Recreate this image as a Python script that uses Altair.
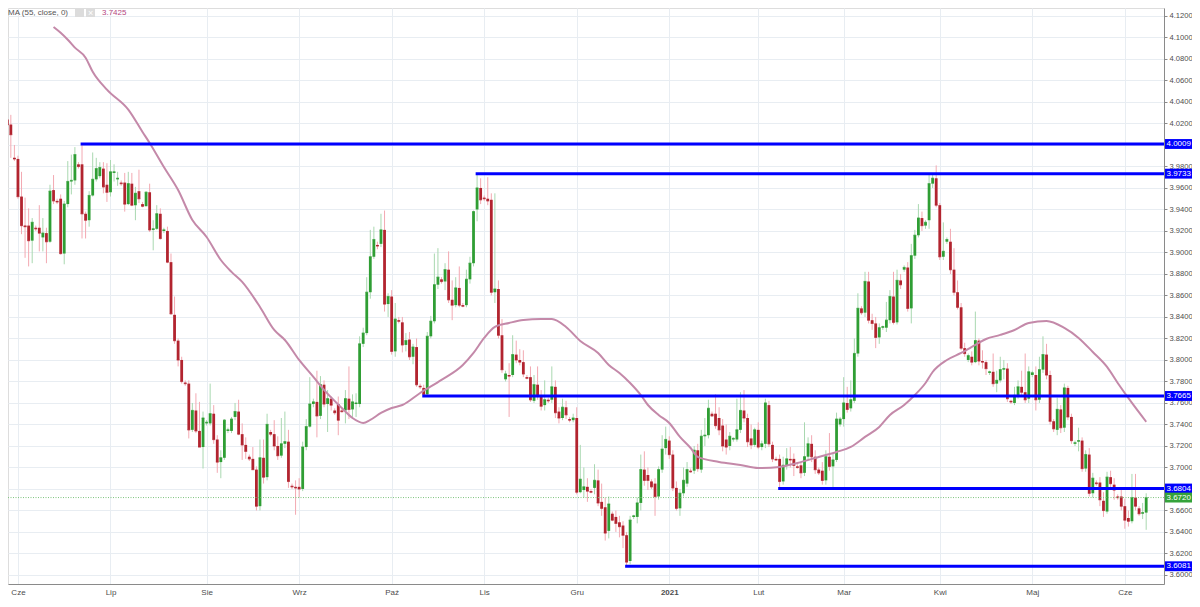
import altair as alt
import pandas as pd

# ---------------- data ----------------
open_ = [
    4.0406, 4.0236, 4.019, 3.988, 3.987, 3.952, 3.925, 3.925, 3.911, 3.923,
    3.923, 3.914, 3.918, 3.910, 3.958, 3.948, 3.950, 3.899, 3.945, 3.966,
    3.967, 3.982, 3.982, 3.936, 3.930, 3.953, 3.968, 3.971, 3.978, 3.963,
    3.956, 3.974, 3.968, 3.965, 3.965, 3.945, 3.964, 3.944, 3.957, 3.945,
    3.943, 3.956, 3.921, 3.922, 3.936, 3.920, 3.920, 3.891, 3.842, 3.818,
    3.800, 3.779, 3.778, 3.735, 3.753, 3.734, 3.719, 3.741, 3.741, 3.750,
    3.726, 3.705, 3.709, 3.734, 3.734, 3.747, 3.752, 3.731, 3.721, 3.710,
    3.708, 3.698, 3.664, 3.709, 3.691, 3.733, 3.731, 3.720, 3.711, 3.722,
    3.724, 3.683, 3.682, 3.682, 3.680, 3.719, 3.738, 3.759, 3.761, 3.748,
    3.777, 3.759, 3.764, 3.753, 3.759, 3.753, 3.753, 3.764, 3.754, 3.759,
    3.759, 3.815, 3.825, 3.863, 3.896, 3.907, 3.908, 3.921, 3.852, 3.859,
    3.808, 3.837, 3.835, 3.814, 3.819, 3.803, 3.812, 3.776, 3.774, 3.768,
    3.822, 3.836, 3.870, 3.875, 3.873, 3.884, 3.856, 3.851, 3.867, 3.851,
    3.851, 3.875, 3.890, 3.940, 3.960, 3.951, 3.950, 3.949, 3.863, 3.866,
    3.823, 3.782, 3.786, 3.786, 3.805, 3.800, 3.798, 3.784, 3.784, 3.762,
    3.777, 3.766, 3.758, 3.763, 3.763, 3.775, 3.752, 3.746, 3.756, 3.745,
    3.744, 3.746, 3.677, 3.679, 3.682, 3.678, 3.681, 3.688, 3.668, 3.663,
    3.641, 3.657, 3.654, 3.649, 3.646, 3.637, 3.613, 3.654, 3.654, 3.667,
    3.698, 3.693, 3.687, 3.685, 3.673, 3.698, 3.718, 3.725, 3.712, 3.681,
    3.662, 3.676, 3.685, 3.697, 3.697, 3.716, 3.698, 3.729, 3.730, 3.750,
    3.750, 3.746, 3.739, 3.726, 3.720, 3.726, 3.726, 3.735, 3.753, 3.746,
    3.727, 3.721, 3.735, 3.719, 3.722, 3.758, 3.721, 3.708, 3.708, 3.687,
    3.702, 3.708, 3.708, 3.701, 3.702, 3.695, 3.710, 3.722, 3.710, 3.698,
    3.697, 3.688, 3.710, 3.701, 3.707, 3.740, 3.745, 3.760, 3.755, 3.762,
    3.806, 3.848, 3.844, 3.873, 3.837, 3.834, 3.821, 3.830, 3.830, 3.837,
    3.859, 3.835, 3.874, 3.884, 3.886, 3.848, 3.897, 3.916, 3.932, 3.925,
    3.930, 3.964, 3.969, 3.944, 3.896, 3.910, 3.910, 3.884, 3.863, 3.849,
    3.811, 3.800, 3.803, 3.798, 3.818, 3.799, 3.798, 3.788, 3.789, 3.778,
    3.781, 3.791, 3.792, 3.762, 3.760, 3.767, 3.775, 3.770, 3.764, 3.786,
    3.786, 3.763, 3.791, 3.805, 3.786, 3.743, 3.735, 3.754, 3.737, 3.774,
    3.747, 3.722, 3.724, 3.725, 3.699, 3.712, 3.676, 3.686, 3.686, 3.669,
    3.659, 3.691, 3.684, 3.673, 3.673, 3.664, 3.653, 3.650, 3.672, 3.662, 3.657, 3.658,
]
high = [
    4.045, 4.031, 4.028, 4.000, 3.990, 3.975, 3.951, 3.941, 3.932, 3.925,
    3.944, 3.932, 3.923, 3.963, 3.972, 3.950, 3.954, 3.948, 3.985, 3.991,
    3.998, 3.984, 4.0009, 3.938, 3.957, 3.993, 3.988, 3.984, 3.984, 3.983,
    3.986, 3.982, 3.975, 3.967, 3.974, 3.975, 3.974, 3.961, 3.977, 3.947,
    3.957, 3.964, 3.930, 3.944, 3.941, 3.923, 3.924, 3.899, 3.859, 3.820,
    3.803, 3.781, 3.781, 3.760, 3.769, 3.761, 3.752, 3.744, 3.778, 3.758,
    3.730, 3.716, 3.745, 3.737, 3.747, 3.760, 3.763, 3.741, 3.728, 3.712,
    3.719, 3.701, 3.726, 3.726, 3.750, 3.735, 3.744, 3.729, 3.746, 3.752,
    3.735, 3.685, 3.688, 3.690, 3.724, 3.745, 3.784, 3.764, 3.790, 3.785,
    3.781, 3.772, 3.766, 3.755, 3.766, 3.755, 3.772, 3.794, 3.768, 3.769,
    3.822, 3.830, 3.877, 3.921, 3.924, 3.910, 3.936, 3.939, 3.862, 3.865,
    3.853, 3.840, 3.840, 3.825, 3.826, 3.815, 3.820, 3.778, 3.777, 3.826,
    3.841, 3.899, 3.904, 3.877, 3.890, 3.901, 3.874, 3.877, 3.887, 3.853,
    3.884, 3.896, 3.939, 3.9733, 3.969, 3.953, 3.970, 3.955, 3.955, 3.874,
    3.838, 3.790, 3.797, 3.823, 3.818, 3.810, 3.809, 3.786, 3.794, 3.786,
    3.794, 3.772, 3.781, 3.765, 3.794, 3.781, 3.756, 3.764, 3.762, 3.747,
    3.750, 3.756, 3.721, 3.700, 3.690, 3.680, 3.703, 3.698, 3.685, 3.672,
    3.673, 3.659, 3.660, 3.655, 3.650, 3.640, 3.655, 3.656, 3.672, 3.712,
    3.715, 3.700, 3.689, 3.690, 3.701, 3.730, 3.738, 3.729, 3.716, 3.687,
    3.680, 3.700, 3.705, 3.699, 3.720, 3.722, 3.735, 3.746, 3.763, 3.752,
    3.768, 3.756, 3.745, 3.740, 3.733, 3.728, 3.764, 3.770, 3.772, 3.750,
    3.740, 3.737, 3.742, 3.725, 3.764, 3.762, 3.724, 3.710, 3.712, 3.710,
    3.718, 3.719, 3.713, 3.703, 3.705, 3.742, 3.728, 3.730, 3.716, 3.700,
    3.705, 3.716, 3.732, 3.713, 3.751, 3.747, 3.784, 3.775, 3.781, 3.820,
    3.862, 3.850, 3.882, 3.882, 3.843, 3.840, 3.834, 3.832, 3.854, 3.865,
    3.882, 3.884, 3.880, 3.888, 3.891, 3.908, 3.921, 3.945, 3.938, 3.930,
    3.972, 3.9733, 3.981, 3.946, 3.928, 3.914, 3.922, 3.904, 3.874, 3.853,
    3.816, 3.806, 3.808, 3.845, 3.820, 3.809, 3.800, 3.790, 3.806, 3.790,
    3.803, 3.800, 3.797, 3.763, 3.775, 3.781, 3.790, 3.806, 3.794, 3.790,
    3.794, 3.803, 3.822, 3.815, 3.790, 3.745, 3.765, 3.758, 3.778, 3.776,
    3.750, 3.725, 3.737, 3.728, 3.716, 3.718, 3.695, 3.688, 3.691, 3.677,
    3.696, 3.697, 3.690, 3.675, 3.680, 3.671, 3.660, 3.694, 3.694, 3.664, 3.667, 3.676,
]
low = [
    4.010, 4.005, 3.988, 3.985, 3.950, 3.917, 3.895, 3.887, 3.890, 3.920,
    3.901, 3.901, 3.890, 3.909, 3.945, 3.945, 3.898, 3.889, 3.942, 3.954,
    3.963, 3.978, 3.913, 3.913, 3.924, 3.952, 3.966, 3.969, 3.955, 3.947,
    3.952, 3.966, 3.962, 3.962, 3.938, 3.944, 3.943, 3.930, 3.946, 3.942,
    3.943, 3.919, 3.902, 3.921, 3.912, 3.918, 3.890, 3.842, 3.815, 3.794,
    3.778, 3.776, 3.727, 3.733, 3.732, 3.719, 3.699, 3.739, 3.739, 3.722,
    3.695, 3.690, 3.707, 3.732, 3.732, 3.744, 3.730, 3.707, 3.708, 3.706,
    3.698, 3.660, 3.660, 3.685, 3.688, 3.729, 3.716, 3.707, 3.709, 3.718,
    3.681, 3.680, 3.656, 3.672, 3.678, 3.716, 3.737, 3.756, 3.728, 3.745,
    3.756, 3.733, 3.753, 3.749, 3.730, 3.751, 3.741, 3.745, 3.747, 3.747,
    3.756, 3.812, 3.823, 3.857, 3.894, 3.903, 3.905, 3.845, 3.840, 3.805,
    3.803, 3.834, 3.807, 3.808, 3.800, 3.796, 3.775, 3.773, 3.7665, 3.767,
    3.820, 3.834, 3.866, 3.871, 3.865, 3.853, 3.837, 3.849, 3.849, 3.849,
    3.849, 3.871, 3.887, 3.929, 3.945, 3.948, 3.944, 3.860, 3.853, 3.820,
    3.788, 3.780, 3.747, 3.784, 3.797, 3.795, 3.784, 3.782, 3.761, 3.760,
    3.763, 3.753, 3.753, 3.760, 3.760, 3.746, 3.741, 3.744, 3.745, 3.742,
    3.742, 3.675, 3.676, 3.672, 3.668, 3.676, 3.675, 3.664, 3.655, 3.632,
    3.634, 3.650, 3.640, 3.635, 3.625, 3.6081, 3.610, 3.652, 3.648, 3.660,
    3.683, 3.679, 3.680, 3.655, 3.670, 3.695, 3.712, 3.708, 3.678, 3.660,
    3.655, 3.673, 3.682, 3.695, 3.694, 3.696, 3.695, 3.720, 3.727, 3.747,
    3.736, 3.730, 3.715, 3.712, 3.716, 3.724, 3.724, 3.732, 3.742, 3.719,
    3.717, 3.719, 3.717, 3.716, 3.718, 3.719, 3.705, 3.706, 3.6804, 3.684,
    3.698, 3.700, 3.692, 3.699, 3.690, 3.692, 3.707, 3.705, 3.694, 3.693,
    3.684, 3.684, 3.697, 3.681, 3.705, 3.738, 3.738, 3.751, 3.752, 3.760,
    3.803, 3.842, 3.840, 3.834, 3.828, 3.811, 3.815, 3.828, 3.826, 3.834,
    3.833, 3.833, 3.866, 3.882, 3.845, 3.834, 3.894, 3.914, 3.920, 3.922,
    3.922, 3.960, 3.942, 3.893, 3.893, 3.908, 3.880, 3.860, 3.847, 3.809,
    3.803, 3.798, 3.795, 3.797, 3.795, 3.792, 3.786, 3.786, 3.775, 3.770,
    3.779, 3.782, 3.761, 3.759, 3.758, 3.764, 3.766, 3.760, 3.760, 3.784,
    3.753, 3.760, 3.788, 3.782, 3.740, 3.733, 3.730, 3.732, 3.733, 3.744,
    3.722, 3.720, 3.715, 3.696, 3.696, 3.673, 3.672, 3.683, 3.664, 3.654,
    3.657, 3.679, 3.670, 3.670, 3.660, 3.643, 3.645, 3.648, 3.660, 3.655, 3.652, 3.642,
]
close = [
    4.0205, 4.0189, 4.0096, 3.987, 3.952, 3.925, 3.924, 3.911, 3.928, 3.922,
    3.918, 3.918, 3.910, 3.957, 3.948, 3.947, 3.899, 3.945, 3.966, 3.967,
    3.991, 3.980, 3.936, 3.930, 3.953, 3.968, 3.978, 3.979, 3.961, 3.956,
    3.975, 3.975, 3.969, 3.964, 3.945, 3.964, 3.944, 3.955, 3.950, 3.943,
    3.956, 3.921, 3.922, 3.936, 3.913, 3.921, 3.891, 3.843, 3.818, 3.800,
    3.780, 3.778, 3.735, 3.753, 3.734, 3.719, 3.746, 3.742, 3.750, 3.726,
    3.705, 3.709, 3.744, 3.735, 3.745, 3.752, 3.731, 3.721, 3.715, 3.708,
    3.698, 3.664, 3.709, 3.691, 3.740, 3.731, 3.720, 3.711, 3.722, 3.724,
    3.687, 3.682, 3.681, 3.680, 3.719, 3.738, 3.759, 3.761, 3.748, 3.777,
    3.759, 3.764, 3.758, 3.751, 3.744, 3.752, 3.764, 3.754, 3.761, 3.760,
    3.815, 3.825, 3.863, 3.896, 3.912, 3.906, 3.921, 3.852, 3.859, 3.808,
    3.838, 3.836, 3.814, 3.818, 3.803, 3.812, 3.777, 3.775, 3.768, 3.822,
    3.836, 3.870, 3.877, 3.873, 3.884, 3.856, 3.851, 3.867, 3.851, 3.850,
    3.875, 3.890, 3.938, 3.960, 3.949, 3.950, 3.948, 3.863, 3.866, 3.823,
    3.791, 3.787, 3.785, 3.805, 3.800, 3.798, 3.787, 3.783, 3.763, 3.777,
    3.766, 3.757, 3.763, 3.762, 3.775, 3.751, 3.746, 3.756, 3.749, 3.744,
    3.746, 3.677, 3.689, 3.682, 3.678, 3.677, 3.688, 3.667, 3.662, 3.639,
    3.666, 3.651, 3.648, 3.645, 3.637, 3.612, 3.651, 3.655, 3.667, 3.698,
    3.688, 3.688, 3.682, 3.673, 3.698, 3.717, 3.726, 3.712, 3.681, 3.662,
    3.676, 3.688, 3.698, 3.696, 3.716, 3.699, 3.729, 3.730, 3.755, 3.748,
    3.739, 3.735, 3.720, 3.719, 3.729, 3.727, 3.735, 3.753, 3.746, 3.724,
    3.721, 3.735, 3.719, 3.722, 3.760, 3.722, 3.708, 3.707, 3.687, 3.702,
    3.708, 3.707, 3.702, 3.700, 3.695, 3.710, 3.722, 3.710, 3.698, 3.695,
    3.688, 3.710, 3.701, 3.707, 3.745, 3.745, 3.760, 3.754, 3.763, 3.806,
    3.848, 3.844, 3.873, 3.837, 3.834, 3.821, 3.830, 3.831, 3.837, 3.859,
    3.835, 3.874, 3.870, 3.886, 3.848, 3.897, 3.916, 3.932, 3.925, 3.928,
    3.964, 3.969, 3.944, 3.896, 3.901, 3.912, 3.884, 3.863, 3.849, 3.811,
    3.806, 3.804, 3.798, 3.818, 3.799, 3.798, 3.792, 3.789, 3.778, 3.781,
    3.791, 3.792, 3.764, 3.761, 3.767, 3.775, 3.770, 3.763, 3.789, 3.788,
    3.763, 3.791, 3.805, 3.786, 3.743, 3.736, 3.754, 3.737, 3.774, 3.747,
    3.725, 3.723, 3.725, 3.699, 3.712, 3.676, 3.690, 3.685, 3.670, 3.660,
    3.691, 3.685, 3.679, 3.672, 3.664, 3.651, 3.650, 3.672, 3.664, 3.657, 3.658, 3.672,
]

# MA(55) line: session number -> value
ma_i = [14, 16, 18, 20, 23, 25, 29, 35, 39, 41, 45, 49, 53, 57, 61, 64, 67, 72, 76, 79,
        83, 87, 90, 95, 98, 101, 103, 106, 109, 112, 117, 123, 129, 132, 135, 138, 142, 146,
        151, 154, 158, 162, 167, 170, 173, 176, 179, 181, 184, 187, 190, 193, 195, 201, 207,
        212, 218, 223, 229, 234, 238, 242, 246, 249, 253, 256, 259, 261, 265, 269, 273, 276,
        280, 284, 288, 293, 298, 302, 306, 310, 313, 317, 321]
ma_v = [4.1098, 4.1044, 4.0979, 4.0905, 4.0812, 4.0681, 4.0514, 4.0328, 4.0121, 4.0019,
        3.9795, 3.9581, 3.9302, 3.9144, 3.8930, 3.8819, 3.8726, 3.8493, 3.8279, 3.8186,
        3.8000, 3.7842, 3.7721, 3.7553, 3.7460, 3.7414, 3.7442, 3.7507, 3.7553, 3.7581,
        3.7693, 3.7814, 3.7953, 3.8065, 3.8205, 3.8307, 3.8344, 3.8372, 3.8381, 3.8381,
        3.8307, 3.8177, 3.8065, 3.7953, 3.7879, 3.7786, 3.7674, 3.7581, 3.7488, 3.7414,
        3.7284, 3.7181, 3.7098, 3.7051, 3.7023, 3.6995, 3.7005, 3.7042, 3.7098, 3.7144,
        3.7191, 3.7284, 3.7377, 3.7488, 3.7581, 3.7674, 3.7786, 3.7888, 3.8000, 3.8065,
        3.8140, 3.8195, 3.8233, 3.8279, 3.8344, 3.8363, 3.8298, 3.8205, 3.8074, 3.7935,
        3.7786, 3.7600, 3.7425]

# horizontal support / resistance levels and the session where each starts
levels = [4.0009, 3.9733, 3.7665, 3.6804, 3.6081]
level_start = [22, 133, 118, 218, 175]

month_abbr = ["Sty", "Lut", "Mar", "Kwi", "Maj", "Cze", "Lip", "Sie", "Wrz", "Paź", "Lis", "Gru"]

# ---------------- build tables ----------------
holidays = {"2020-12-25", "2021-01-01"}
days = pd.date_range("2020-05-27", "2021-06-08", freq="D")
dates = [d for d in days if d.weekday() != 5 and d.strftime("%Y-%m-%d") not in holidays]
n = min(len(dates), len(open_))
df = pd.DataFrame({
    "i": list(range(n)),
    "date": [d.strftime("%Y-%m-%d") for d in dates[:n]],
    "o": open_[:n], "h": high[:n], "l": low[:n], "c": close[:n],
})

month_idx, month_lab = [], []
for k in range(1, n):
    if dates[k].month != dates[k - 1].month:
        month_idx.append(k)
        month_lab.append(str(dates[k].year) if dates[k].month == 1 else month_abbr[dates[k].month - 1])
year_idx = [k for k, t in zip(month_idx, month_lab) if t.isdigit()]
label_expr = "[" + ",".join("'%s'" % t for t in month_lab) + "][indexof([" + \
    ",".join(str(v) for v in month_idx) + "], datum.value)]"

ma_df = pd.DataFrame({"i": ma_i, "v": ma_v})
lev_df = pd.DataFrame({"level": levels, "start": level_start})
box_df = pd.DataFrame({"level": levels + [close[n - 1]],
                       "kind": ["lvl"] * len(levels) + ["last"]})
last_df = pd.DataFrame({"level": [close[n - 1]]})
one = pd.DataFrame({"a": [0]})

# ---------------- style ----------------
W, H = 1156, 576
PAD_R, PAD_B = 28, 15
RED, GREEN = "#b2242f", "#2f9e34"
RED_W, GREEN_W = "#f3a9b2", "#a9d8b0"
BLUE = "#0000ff"
MA_C = "#c489a9"
GRID = "#e8edf2"
FONT = "Liberation Sans"
FS = 8

xs = alt.Scale(domain=[2.607, 324.6], nice=False, zero=False)
ys = alt.Scale(domain=[3.5916, 4.1274], nice=False, zero=False)
yticks = [round(3.60 + 0.02 * j, 2) for j in range(27)]
# labels that sit fully under a level box are not visible in the reference
hidden = [v for v in yticks if any(abs(v - L) < 0.0015 for L in levels)]
y_label_expr = "indexof(%s, round(datum.value * 100) / 100) >= 0 ? '' : format(datum.value, '.4f')" % str(hidden)

x_axis = alt.Axis(values=month_idx, labelExpr=label_expr, grid=True, gridColor=GRID,
                  gridWidth=1, title=None, ticks=False, labelFontSize=FS,
                  labelColor="#4d4d4d", domainColor="#8a8a8a", labelOverlap=False,
                  labelFlush=8, labelFlushOffset=5, labelPadding=4, labelFont=FONT,
                  labelFontWeight={"condition": {"test": "indexof(%s, datum.value) >= 0" % str(year_idx),
                                                 "value": "bold"}, "value": "normal"})
y_axis = alt.Axis(orient="right", values=yticks, labelExpr=y_label_expr, grid=True,
                  gridColor=GRID, gridWidth=1, title=None, tickSize=3, tickColor="#8a8a8a",
                  labelFontSize=7.6, labelColor="#4d4d4d", domainColor="#8a8a8a",
                  labelOverlap=False, labelPadding=2, labelFont=FONT, labelFlush=False)


def X(f):
    return alt.X(f, scale=xs, axis=x_axis)


def Y(f):
    return alt.Y(f, scale=ys, axis=y_axis)


up = "datum.c >= datum.o"

wick = alt.Chart(df).mark_rule(strokeWidth=1, clip=True).encode(
    x=X("i:Q"), y=Y("l:Q"), y2="h:Q",
    color=alt.condition(up, alt.value(GREEN_W), alt.value(RED_W)))

body = alt.Chart(df).mark_bar(width=2.8, clip=True).encode(
    x=X("i:Q"), y=Y("o:Q"), y2="c:Q",
    color=alt.condition(up, alt.value(GREEN), alt.value(RED)))

cap = alt.Chart(df).mark_tick(orient="horizontal", size=2.8, thickness=1.2, clip=True).encode(
    x=X("i:Q"), y=Y("c:Q"),
    color=alt.condition(up, alt.value(GREEN), alt.value(RED)))

ma = alt.Chart(ma_df).mark_line(color=MA_C, strokeWidth=2, interpolate="monotone", clip=True).encode(
    x=X("i:Q"), y=Y("v:Q"))

lev = alt.Chart(lev_df).transform_calculate(x0="datum.start - 0.4").mark_rule(
    color=BLUE, strokeWidth=3).encode(x=X("x0:Q"), x2=alt.value(W), y=Y("level:Q"))

last_line = alt.Chart(last_df).mark_rule(color="#7cc47c", strokeWidth=1, strokeDash=[1, 1.5]).encode(
    x=alt.value(0), x2=alt.value(W), y=Y("level:Q"))

boxes = alt.Chart(box_df).transform_calculate(
    top="datum.level + 0.0046", bot="datum.level - 0.0046").mark_rect().encode(
    x=alt.value(W + 1), x2=alt.value(W + PAD_R), y=Y("top:Q"), y2="bot:Q",
    color=alt.Color("kind:N", scale=alt.Scale(domain=["lvl", "last"], range=[BLUE, "#35a33a"]),
                    legend=None))

box_txt = alt.Chart(box_df).mark_text(align="left", baseline="middle", fontSize=FS,
                                      color="white", font=FONT).encode(
    x=alt.value(W + 2.5), y=Y("level:Q"), text=alt.Text("level:Q", format=".4f"))

legend_txt = alt.Chart(one).mark_text(align="left", baseline="middle", fontSize=FS,
                                      color="#555555", font=FONT).encode(
    x=alt.value(0), y=alt.value(4.5), text=alt.value("MA (55, close, 0)"))
icon1 = alt.Chart(one).mark_rect(color="#dcdcdc").encode(
    x=alt.value(67), x2=alt.value(76), y=alt.value(0.5), y2=alt.value(9))
icon2 = alt.Chart(one).mark_rect(color="#dcdcdc").encode(
    x=alt.value(78), x2=alt.value(87), y=alt.value(0.5), y2=alt.value(9))
icon2_x = alt.Chart(one).mark_text(align="center", baseline="middle", fontSize=9,
                                   color="white", font=FONT).encode(
    x=alt.value(82.5), y=alt.value(4.8), text=alt.value("×"))
ma_last = alt.Chart(pd.DataFrame({"v": [ma_v[-1]]})).mark_text(
    align="left", baseline="middle", fontSize=FS, color="#b5467f", font=FONT).encode(
    x=alt.value(94), y=alt.value(4.5), text=alt.Text("v:Q", format=".4f"))

chart = alt.layer(
    wick, body, cap, ma, lev, last_line, boxes, box_txt,
    legend_txt, icon1, icon2, icon2_x, ma_last
).properties(
    width=W, height=H,
    autosize=alt.AutoSizeParams(type="none"),
    padding={"left": 0, "top": 0, "right": PAD_R, "bottom": PAD_B},
).configure_view(stroke=None).configure(background="white")

chart.save("out.html", embed_options={"renderer": "svg", "actions": False})
